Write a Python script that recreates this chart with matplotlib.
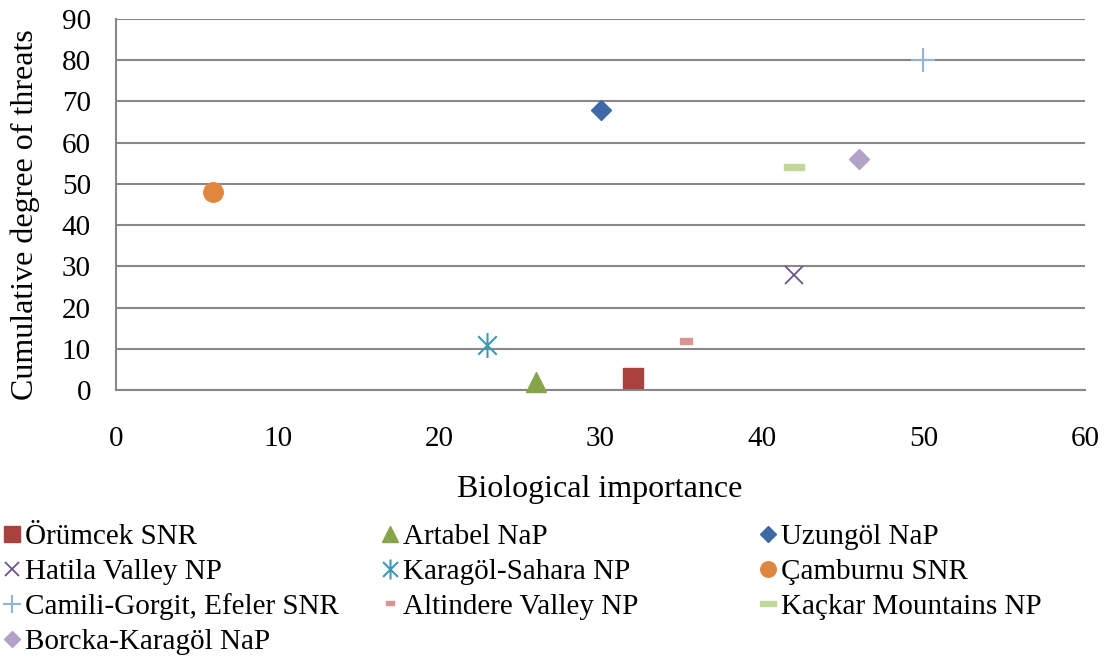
import matplotlib.pyplot as plt
from matplotlib.path import Path

plt.rcParams['font.family'] = ['Liberation Serif', 'DejaVu Serif']

# --- data ---
sites = ['Örümcek SNR', 'Artabel NaP', 'Uzungöl NaP', 'Hatila Valley NP',
         'Karagöl-Sahara NP', 'Çamburnu SNR', 'Camili-Gorgit, Efeler SNR',
         'Altindere Valley NP', 'Kaçkar Mountains NP', 'Borcka-Karagöl NaP']
bio_importance = [32, 26, 30, 42, 23, 6, 50, 35.3, 42, 46]
threat_degree = [3, 2, 68, 28, 11, 48, 80, 12, 54, 56]

# --- marker styles (Excel-like) ---
asterisk = Path([(-1, -1), (1, 1), (-1, 1), (1, -1), (0, -1.35), (0, 1.35)],
                [Path.MOVETO, Path.LINETO, Path.MOVETO, Path.LINETO, Path.MOVETO, Path.LINETO])
short_dash = Path([(-1, -0.5), (1, -0.5), (1, 0.5), (-1, 0.5), (-1, -0.5)],
                  [Path.MOVETO, Path.LINETO, Path.LINETO, Path.LINETO, Path.CLOSEPOLY])
long_dash = Path([(-1, -0.3), (1, -0.3), (1, 0.3), (-1, 0.3), (-1, -0.3)],
                 [Path.MOVETO, Path.LINETO, Path.LINETO, Path.LINETO, Path.CLOSEPOLY])

styles = [
    dict(marker='s', color='#A9423F', ms=14),
    dict(marker='^', color='#86A44A', ms=15),
    dict(marker='D', color='#3D6AA6', ms=10),
    dict(marker='x', color='#6E548D', ms=13, mew=1.3),
    dict(marker=asterisk, color='#3C9AB4', ms=18, mew=1.5),
    dict(marker='o', color='#E0873F', ms=14),
    dict(marker='+', color='#95B3D7', ms=17, mew=1.5),
    dict(marker=short_dash, color='#D99594', ms=8),
    dict(marker=long_dash, color='#C3D69B', ms=15),
    dict(marker='D', color='#B3A2C7', ms=10),
]

FS = 21
FS_TITLE = 23

fig = plt.figure(figsize=(11.04, 6.57), dpi=100)
ax = fig.add_axes([116 / 1104, 1 - 390 / 657, (1085 - 116) / 1104, (390 - 19) / 657])

handles = []
for name, x, y, st in zip(sites, bio_importance, threat_degree, styles):
    h, = ax.plot([x], [y], linestyle='none', marker=st['marker'], color=st['color'],
                 markersize=st['ms'], markeredgewidth=st.get('mew', 1.0),
                 markeredgecolor=st['color'], label=name, zorder=3, clip_on=False)
    handles.append(h)

ax.set_xlim(0, 60)
ax.set_ylim(0, 90)
ax.set_xticks(range(0, 61, 10))
ax.set_yticks(range(0, 91, 10))
ax.yaxis.grid(True, color='#888888', linewidth=1.5)
ax.set_axisbelow(True)
for side in ['top', 'right']:
    ax.spines[side].set_visible(False)
for side in ['left', 'bottom']:
    ax.spines[side].set_color('#888888')
    ax.spines[side].set_linewidth(1.5)
ax.tick_params(axis='both', length=0, labelsize=FS)
ax.tick_params(axis='x', pad=26)
ax.tick_params(axis='y', pad=18)

fig.text(600 / 1104, 1 - 490 / 657, 'Biological importance', fontsize=FS_TITLE,
         ha='center', va='center')
fig.text(25 / 1104, 1 - 215 / 657, 'Cumulative degree of threats', fontsize=FS_TITLE,
         ha='center', va='center', rotation=90)

# legend laid out row by row in three columns
col_x = [0, 378, 756]
for c in range(3):
    hs = handles[c::3]
    fig.legend(handles=hs, labels=[h.get_label() for h in hs],
               loc='upper left', bbox_to_anchor=(col_x[c] / 1104, 1 - 524 / 657),
               frameon=False, fontsize=FS, handlelength=0.8, handletextpad=0.05,
               labelspacing=0.28, borderpad=0, borderaxespad=0, markerscale=0.8)

fig.savefig('out.png', dpi=100)
